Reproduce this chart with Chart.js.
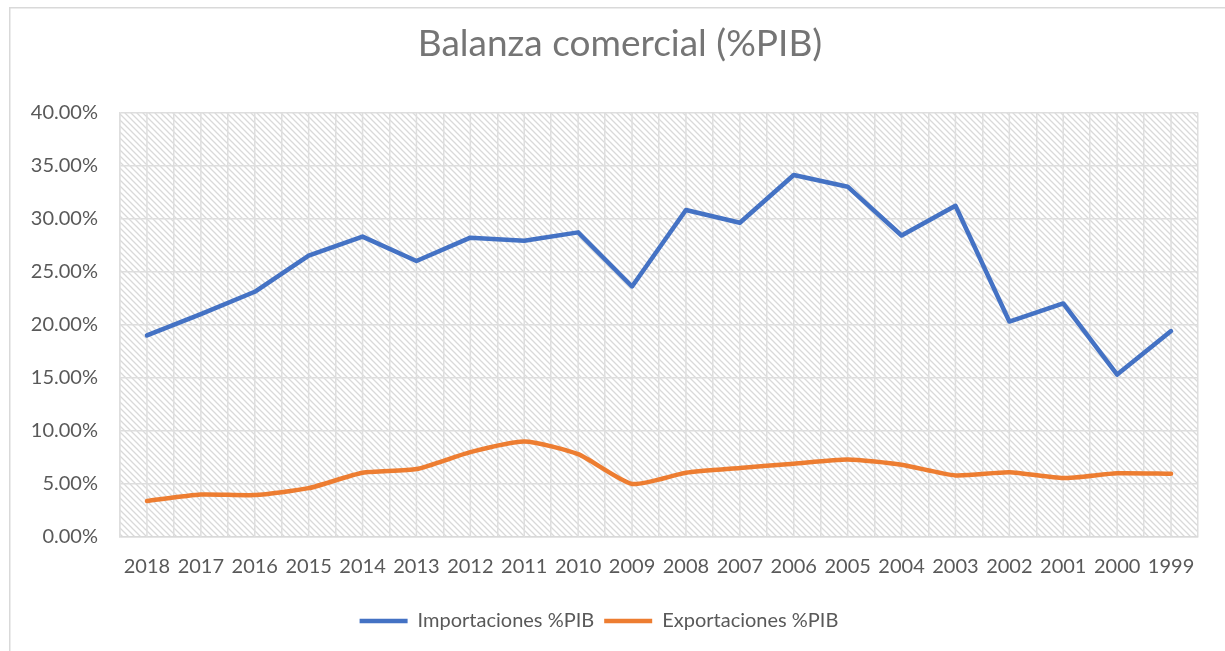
<!DOCTYPE html>
<html>
<head>
<meta charset="utf-8">
<script src="https://cdn.jsdelivr.net/npm/chart.js@4.4.1/dist/chart.umd.min.js"></script>
<style>
  html, body { margin: 0; padding: 0; background: #ffffff; }
  #wrap { width: 1225px; height: 651px; position: relative; }
</style>
</head>
<body>
<div id="wrap"><canvas id="c"></canvas></div>
<script>
const years = ['2018','2017','2016','2015','2014','2013','2012','2011','2010','2009',
               '2008','2007','2006','2005','2004','2003','2002','2001','2000','1999'];
const importaciones = [19.0, 21.0, 23.1, 26.5, 28.3, 26.0, 28.2, 27.9, 28.7, 23.6,
                       30.8, 29.6, 34.1, 33.0, 28.4, 31.2, 20.3, 22.0, 15.3, 19.4];
const exportaciones = [3.4, 4.0, 3.95, 4.6, 6.05, 6.4, 8.0, 9.0, 7.8, 5.0,
                       6.05, 6.5, 6.9, 7.3, 6.8, 5.8, 6.1, 5.55, 6.0, 5.95];
const yTicks = [0, 5, 10, 15, 20, 25, 30, 35, 40];
const titleText = 'Balanza comercial (%PIB)';
const seriesNames = ['Importaciones %PIB', 'Exportaciones %PIB'];

const FONT = 'Lato, "Open Sans", sans-serif';
const TXT = '#595959';
const GRID = '#dedede';

function makeHatch() {
  const s = 6;
  const p = document.createElement('canvas');
  p.width = s; p.height = s;
  const g = p.getContext('2d');
  g.fillStyle = '#ffffff';
  g.fillRect(0, 0, s, s);
  g.strokeStyle = '#d9d9d9';
  g.lineWidth = 1.3;
  g.beginPath();
  g.moveTo(-1, -1); g.lineTo(s + 1, s + 1);
  g.moveTo(-1, s - 1); g.lineTo(1, s + 1);
  g.moveTo(s - 1, -1); g.lineTo(s + 1, 1);
  g.stroke();
  return p;
}

const decor = {
  id: 'decor',
  afterLayout(chart) {
    chart.titleBlock.left = 9;
    chart.titleBlock.right = 1231;
  },
  beforeDraw(chart) {
    const ctx = chart.ctx;
    const a = chart.chartArea;
    ctx.save();
    ctx.fillStyle = '#ffffff';
    ctx.fillRect(0, 0, chart.width, chart.height);
    ctx.strokeStyle = '#d9d9d9';
    ctx.lineWidth = 1.5;
    ctx.strokeRect(9.75, 7.75, 1400, 800);
    ctx.fillStyle = ctx.createPattern(makeHatch(), 'repeat');
    ctx.fillRect(a.left, a.top, a.right - a.left, a.bottom - a.top);
    ctx.restore();
  },
  beforeDatasetsDraw(chart) {
    const ctx = chart.ctx;
    const a = chart.chartArea;
    const x = chart.scales.x;
    ctx.save();
    ctx.strokeStyle = GRID;
    ctx.lineWidth = 1.5;
    ctx.beginPath();
    for (let i = 0; i < years.length; i++) {
      const px = x.getPixelForTick(i);
      ctx.moveTo(px, a.top);
      ctx.lineTo(px, a.bottom);
    }
    ctx.stroke();
    ctx.restore();
  }
};

new Chart(document.getElementById('c'), {
  type: 'line',
  data: {
    labels: years,
    datasets: [
      {
        label: seriesNames[0],
        data: importaciones,
        borderColor: '#4472c4',
        backgroundColor: '#4472c4',
        borderWidth: 4.5,
        borderCapStyle: 'round',
        borderJoinStyle: 'round',
        pointRadius: 0,
        tension: 0,
        fill: false
      },
      {
        label: seriesNames[1],
        data: exportaciones,
        borderColor: '#ed7d31',
        backgroundColor: '#ed7d31',
        borderWidth: 4.5,
        borderCapStyle: 'round',
        borderJoinStyle: 'round',
        pointRadius: 0,
        tension: 0.2,
        fill: false
      }
    ]
  },
  options: {
    responsive: true,
    maintainAspectRatio: false,
    animation: false,
    layout: { padding: { left: 0, right: 27, top: 0, bottom: 10 } },
    plugins: {
      title: {
        display: true,
        text: titleText,
        color: '#757575',
        font: { family: FONT, size: 37, weight: 'normal' },
        padding: { top: 22, bottom: 46 }
      },
      legend: {
        display: true,
        position: 'bottom',
        labels: {
          usePointStyle: true,
          pointStyle: 'line',
          pointStyleWidth: 48,
          boxHeight: 20,
          color: TXT,
          padding: 10,
          font: { family: FONT, size: 20 }
        }
      },
      tooltip: { enabled: false }
    },
    scales: {
      x: {
        type: 'category',
        offset: true,
        grid: { offset: true, color: GRID, lineWidth: 1.5, drawTicks: false },
        border: { display: true, color: '#d9d9d9', width: 1.5 },
        ticks: { color: TXT, font: { family: FONT, size: 20 }, padding: 18, maxRotation: 0, autoSkip: false },
        afterFit(s) { s.height = 64; }
      },
      y: {
        min: 0,
        max: 40,
        afterBuildTicks(s) { s.ticks = yTicks.map(v => ({ value: v })); },
        grid: { color: GRID, lineWidth: 1.5, drawTicks: false },
        border: { display: true, color: GRID, width: 1.5 },
        ticks: {
          color: TXT,
          font: { family: FONT, size: 20 },
          padding: 22,
          callback: v => v.toFixed(2) + '%'
        },
        afterFit(s) { s.width = 120; }
      }
    }
  },
  plugins: [decor]
});
</script>
</body>
</html>
